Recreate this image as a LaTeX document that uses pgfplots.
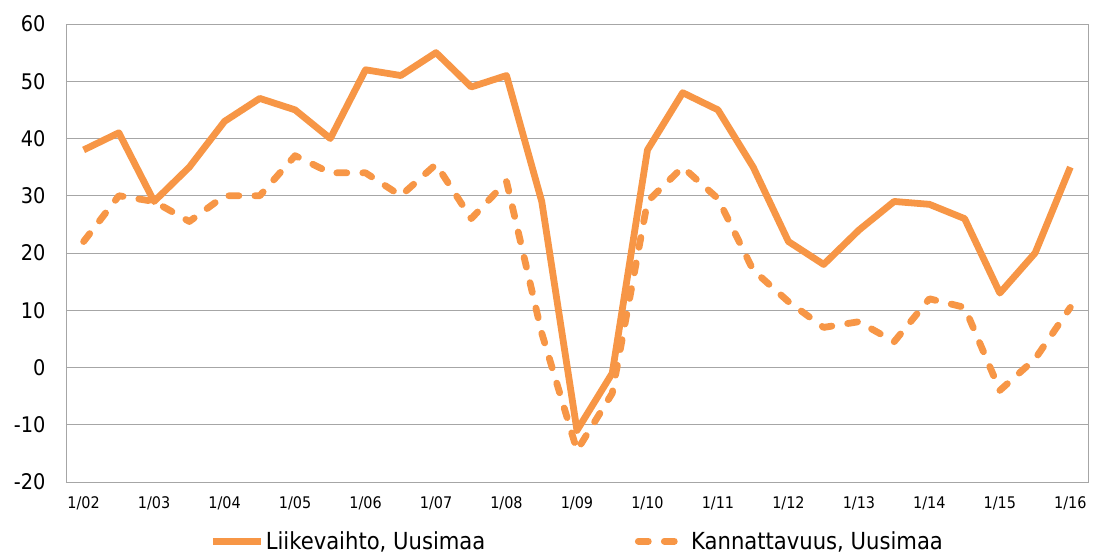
\documentclass[border=0pt]{standalone}
\usepackage{fontspec}
\setmainfont{DejaVu Sans Condensed}
\usepackage{pgfplots}
\pgfplotsset{compat=1.18}
\definecolor{lo}{HTML}{F79646}
\definecolor{gr}{HTML}{A6A6A6}
\begin{document}
\begin{tikzpicture}
\useasboundingbox (-66pt,-71pt) rectangle (1027pt,482pt);
\begin{axis}[
  scale only axis, width=1022pt, height=458pt,
  at={(0,0)}, anchor=south west,
  xmin=-0.5, xmax=28.5, ymin=-20, ymax=60,
  xtick={0,2,...,28},
  xticklabels={1/02,1/03,1/04,1/05,1/06,1/07,1/08,1/09,1/10,1/11,1/12,1/13,1/14,1/15,1/16},
  ytick={-20,-10,...,60},
  ymajorgrids, grid style={gr, line width=0.9pt},
  axis line style={gr, line width=0.9pt},
  major tick length=0pt,
  /pgf/number format/assume math mode=true,
  yticklabel style={font=\fontsize{21.5}{21.5}\selectfont, xshift=-17pt},
  xticklabel style={font=\fontsize{16}{16}\selectfont, yshift=-11pt},
  legend columns=2,
  legend style={at={(0.5,-0.1)}, anchor=north, draw=none, fill=none,
    font=\fontsize{23.5}{23.5}\selectfont,
    /tikz/every even column/.append style={column sep=148pt},
    nodes={inner sep=1.5pt}},
  legend image code/.code={\draw[#1] (0pt,0pt) -- (48pt,0pt);},
  every axis plot/.append style={lo, line width=6.8pt, line join=round},
]
\addplot[line cap=butt] coordinates {
(0,38)(1,41)(2,29)(3,35)(4,43)(5,47)(6,45)(7,40)(8,52)(9,51)(10,55)(11,49)(12,51)(13,29)(14,-11)
(15,-1)(16,38)(17,48)(18,45)(19,35)(20,22)(21,18)(22,24)(23,29)(24,28.5)(25,26)(26,13)(27,20)(28,35)};
\addlegendentry{Liikevaihto, Uusimaa}
\addplot[line cap=round, dash pattern=on 10pt off 16pt] coordinates {
(0,22)(1,30)(2,29)(3,25.5)(4,30)(5,30)(6,37)(7,34)(8,34)(9,30)(10,35.5)(11,26)(12,32.5)(13,6)(14,-14.5)
(15,-4.5)(16,29)(17,35)(18,29.5)(19,17)(20,11.5)(21,7)(22,8)(23,4.5)(24,12)(25,10.5)(26,-4)(27,1.5)(28,10.5)};
\addlegendentry{Kannattavuus, Uusimaa}
\end{axis}
\end{tikzpicture}
\end{document}
